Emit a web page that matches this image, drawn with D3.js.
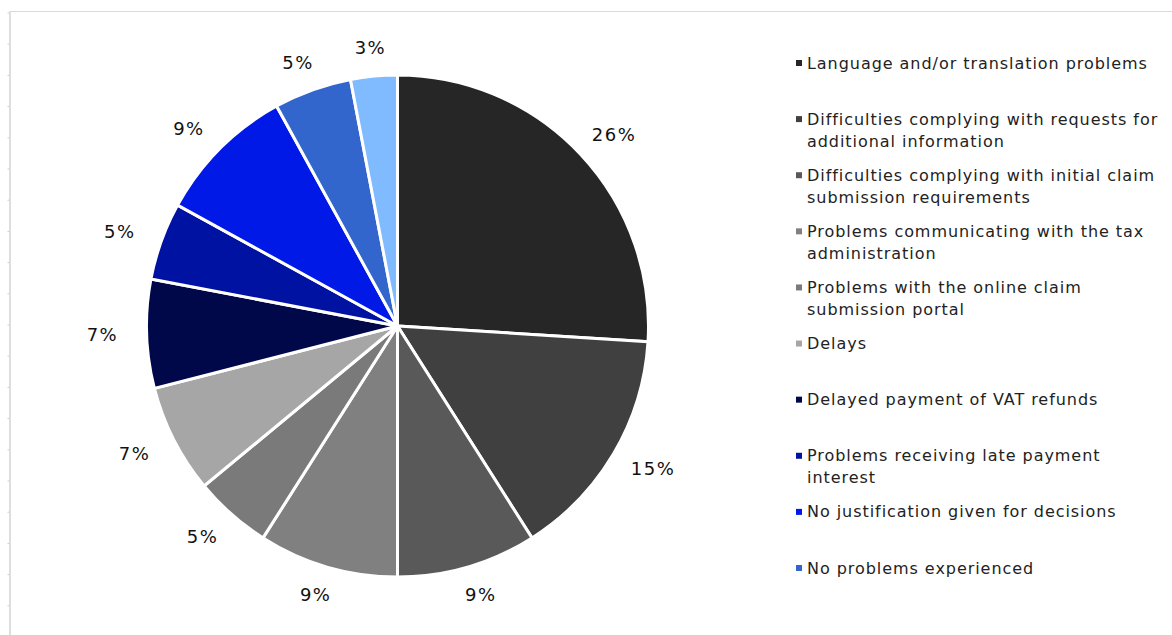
<!DOCTYPE html>
<html>
<head>
<meta charset="utf-8">
<script src="https://cdn.jsdelivr.net/npm/d3@7/dist/d3.min.js"></script>
<style>
  html, body { margin: 0; padding: 0; background: #ffffff; }
  svg { display: block; }
  text { font-family: "DejaVu Sans", Verdana, sans-serif; }
</style>
</head>
<body>
<svg id="chart" width="1172" height="635"></svg>
<script>
// ---- data ----
const categories = [
  "Language and/or translation problems",
  "Difficulties complying with requests for additional information",
  "Difficulties complying with initial claim submission requirements",
  "Problems communicating with the tax administration",
  "Problems with the online claim submission portal",
  "Delays",
  "Delayed payment of VAT refunds",
  "Problems receiving late payment interest",
  "No justification given for decisions",
  "No problems experienced",
  "Other" // 11th slice; its legend entry is not visible in the reference
];
const values = [26, 15, 9, 9, 5, 7, 7, 5, 9, 5, 3];
const colors = ["#262626", "#404040", "#595959", "#808080", "#7a7a7a", "#a6a6a6",
                "#00084a", "#0012a2", "#0019e6", "#3366cc", "#80bbff"];
// Legend text as wrapped in the reference
const legendLines = [
  ["Language and/or translation problems"],
  ["Difficulties complying with requests for", "additional information"],
  ["Difficulties complying with initial claim", "submission requirements"],
  ["Problems communicating with the tax", "administration"],
  ["Problems with the online claim", "submission portal"],
  ["Delays"],
  ["Delayed payment of VAT refunds"],
  ["Problems receiving late payment", "interest"],
  ["No justification given for decisions"],
  ["No problems experienced"]
];

const svg = d3.select("#chart");

// frame
svg.append("line").attr("x1", 9).attr("x2", 1172).attr("y1", 11.5).attr("y2", 11.5)
  .attr("stroke", "#d9d9d9").attr("stroke-width", 1);
svg.append("line").attr("x1", 10).attr("x2", 10).attr("y1", 11).attr("y2", 635)
  .attr("stroke", "#dedede").attr("stroke-width", 2);
const tickY = d3.range(13, 635, 31.2);
svg.selectAll("line.tk").data(tickY).enter().append("line").attr("class", "tk")
  .attr("x1", 7.5).attr("x2", 9).attr("y1", d => d).attr("y2", d => d)
  .attr("stroke", "#cccccc").attr("stroke-width", 1);

// pie
const cx = 397.5, cy = 326, R = 251;
const pie = d3.pie().sort(null).value(d => d)(values);
const arc = d3.arc().innerRadius(0).outerRadius(R);
const g = svg.append("g").attr("transform", `translate(${cx},${cy})`);

g.selectAll("path").data(pie).enter().append("path")
  .attr("d", arc)
  .attr("fill", (d, i) => colors[i])
  .attr("stroke", "#ffffff")
  .attr("stroke-width", 3)
  .attr("stroke-linejoin", "miter");

// labels outside (outside-end placement on an ellipse around the pie)
const fmt = d => d3.format(".0f")(d) + "%";
const rx = R + 45, ry = R + 29;
g.selectAll("text.lbl").data(pie).enter().append("text").attr("class", "lbl")
  .attr("x", d => Math.sin((d.startAngle + d.endAngle) / 2) * rx + 0.75)
  .attr("y", d => -Math.cos((d.startAngle + d.endAngle) / 2) * ry)
  .attr("text-anchor", "middle")
  .attr("dominant-baseline", "central")
  .attr("font-size", 18)
  .attr("letter-spacing", 1.5)
  .attr("fill", "#111111")
  .text(d => fmt(d.data));

// legend
const legendData = legendLines.map((lines, i) => ({ lines, color: colors[i] }));
const ly = d3.scaleLinear().domain([0, 9]).range([63, 568]);
const lg = svg.append("g");
const items = lg.selectAll("g.item").data(legendData).enter().append("g").attr("class", "item")
  .attr("transform", (d, i) => `translate(796, ${ly(i)})`);
items.append("rect").attr("x", 0).attr("y", -3).attr("width", 6).attr("height", 6)
  .attr("fill", d => d.color);
items.each(function(d) {
  const t = d3.select(this).append("text")
    .attr("x", 11).attr("y", 0)
    .attr("font-size", 16)
    .attr("letter-spacing", 0.95)
    .attr("fill", "#222222");
  d.lines.forEach((ln, j) => {
    t.append("tspan").attr("x", 11).attr("y", j * 22)
      .attr("dominant-baseline", "central").text(ln);
  });
});
</script>
</body>
</html>
